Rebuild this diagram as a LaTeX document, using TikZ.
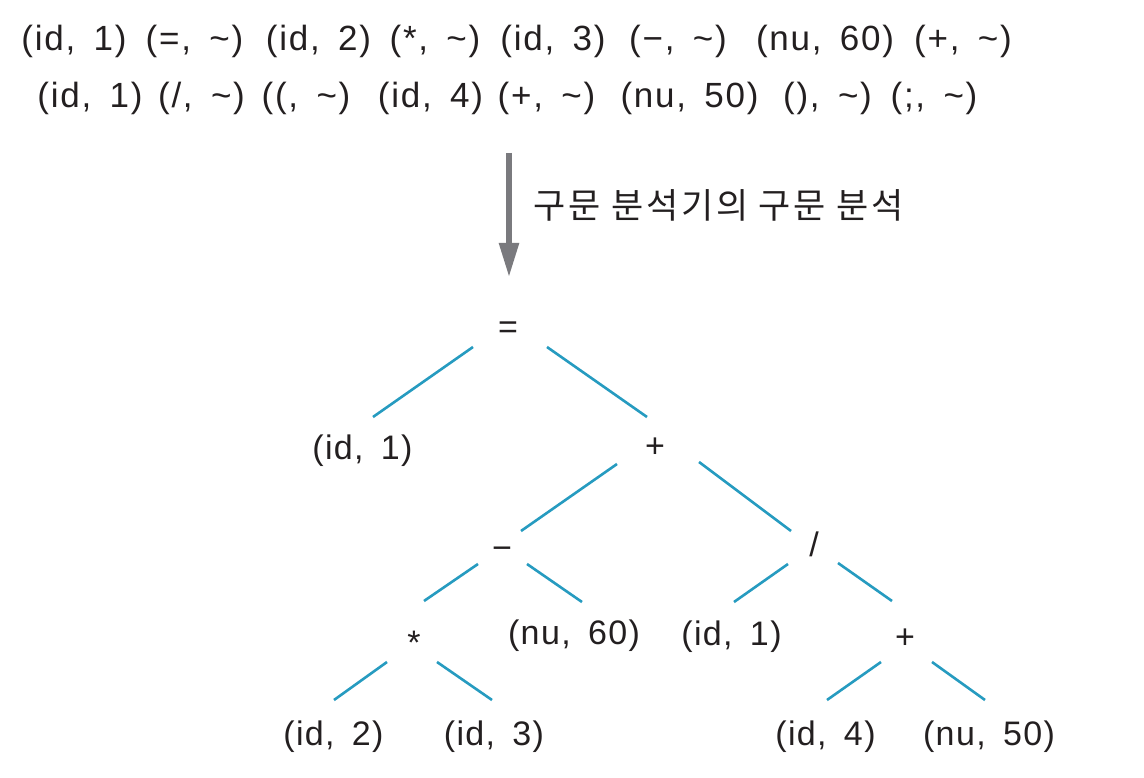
\documentclass[tikz,border=0pt]{standalone}
\usepackage{fontspec}
\setmainfont{Liberation Sans}
\newfontfamily\topfont[LetterSpace=5,WordSpace=1.6]{Liberation Sans}
\newfontfamily\treefont[LetterSpace=4,WordSpace=1.6]{Liberation Sans}
\newfontfamily\krfont[LetterSpace=8]{Noto Sans CJK KR}
\usetikzlibrary{arrows.meta}
\definecolor{edgeblue}{RGB}{38,155,192}
\definecolor{txt}{RGB}{35,31,32}
\definecolor{arrowgray}{RGB}{122,122,126}
\begin{document}
\begin{tikzpicture}[x=1pt,y=-1pt,
  tok/.style={anchor=base, inner sep=0pt, text=txt, font=\topfont\fontsize{35}{38}\selectfont},
  tn/.style={anchor=base, inner sep=0pt, text=txt, font=\treefont\fontsize{34}{37}\selectfont},
  edge/.style={draw=edgeblue, line width=2.6pt}]
\useasboundingbox[fill=white] (0,0) rectangle (1144,778);

% token stream, line 1
\node[tok] (t1) at (74,51) {(id, 1)};
\node[tok] (t2) at (194.5,51) {(=, \char"007E)};
\node[tok] (t3) at (318.5,51) {(id, 2)};
\node[tok] (t4) at (435,51) {(*, \char"007E)};
\node[tok] (t5) at (553,51) {(id, 3)};
\node[tok] (t6) at (678,51) {(−, \char"007E)};
\node[tok] (t7) at (825,51) {(nu, 60)};
\node[tok] (t8) at (963,51) {(+, \char"007E)};
% line 2
\node[tok] (u1) at (90,107.5) {(id, 1)};
\node[tok] (u2) at (201.5,107.5) {(/, \char"007E)};
\node[tok] (u3) at (306,107.5) {((, \char"007E)};
\node[tok] (u4) at (430.5,107.5) {(id, 4)};
\node[tok] (u5) at (546.5,107.5) {(+, \char"007E)};
\node[tok] (u6) at (689.5,107.5) {(nu, 50)};
\node[tok] (u7) at (827.5,107.5) {(), \char"007E)};
\node[tok] (u8) at (934,107.5) {(;, \char"007E)};

% arrow
\coordinate (a1) at (509,153);
\coordinate (a2) at (509,277);
\draw[arrowgray, line width=5.5pt, -{Triangle[width=19pt,length=34pt]}] (a1) -- (a2);
\node[anchor=west, inner sep=0pt, text=txt, font=\krfont\fontsize{35}{38}\selectfont] (lab) at (533,205) {구문 분석기의 구문 분석};

% tree nodes
\node[tn] (eq) at (508,338) {=};
\node[tn] (id1) at (362.5,459) {(id, 1)};
\node[tn] (plus1) at (655,457) {+};
\node[tn] (minus) at (502,559) {−};
\node[tn] (div) at (814,556) {/};
\node[tn] (mul) at (414,654) {*};
\node[tn] (nu60) at (574,644) {(nu, 60)};
\node[tn] (id1b) at (731.5,645) {(id, 1)};
\node[tn] (plus2) at (905,648) {+};
\node[tn] (id2) at (333.5,745) {(id, 2)};
\node[tn] (id3) at (494,745) {(id, 3)};
\node[tn] (id4) at (825.5,745) {(id, 4)};
\node[tn] (nu50) at (989,745) {(nu, 50)};

% edge end points
\coordinate (e1a) at (473,347);  \coordinate (e1b) at (373,417);
\coordinate (e2a) at (547,347);  \coordinate (e2b) at (647,417);
\coordinate (e3a) at (617,464);  \coordinate (e3b) at (521,531);
\coordinate (e4a) at (699,462);  \coordinate (e4b) at (791,531);
\coordinate (e5a) at (478,564);  \coordinate (e5b) at (424,601);
\coordinate (e6a) at (527,564);  \coordinate (e6b) at (582,602);
\coordinate (e7a) at (788,564);  \coordinate (e7b) at (734,602);
\coordinate (e8a) at (838,563);  \coordinate (e8b) at (892,601);
\coordinate (e9a) at (387,662);  \coordinate (e9b) at (334,700);
\coordinate (e10a) at (437,662); \coordinate (e10b) at (492,700);
\coordinate (e11a) at (881,662); \coordinate (e11b) at (827,700);
\coordinate (e12a) at (932,662); \coordinate (e12b) at (985,700);

\draw[edge] (e1a) -- (e1b);
\draw[edge] (e2a) -- (e2b);
\draw[edge] (e3a) -- (e3b);
\draw[edge] (e4a) -- (e4b);
\draw[edge] (e5a) -- (e5b);
\draw[edge] (e6a) -- (e6b);
\draw[edge] (e7a) -- (e7b);
\draw[edge] (e8a) -- (e8b);
\draw[edge] (e9a) -- (e9b);
\draw[edge] (e10a) -- (e10b);
\draw[edge] (e11a) -- (e11b);
\draw[edge] (e12a) -- (e12b);
\end{tikzpicture}
\end{document}
